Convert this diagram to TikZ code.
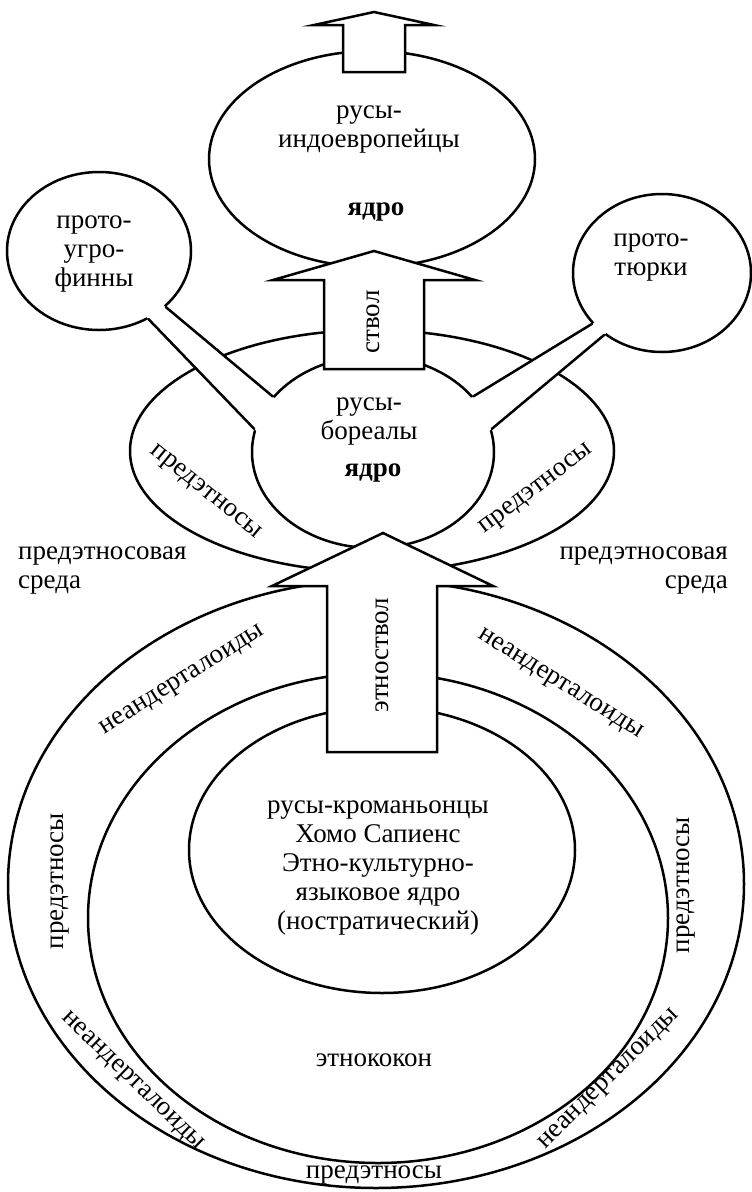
\documentclass[tikz,border=0pt]{standalone}
\usepackage{fontspec}
\setmainfont{Liberation Serif}
\usepackage{tikz}
\usetikzlibrary{shapes.geometric,calc}
\tikzset{
  ring/.style={ellipse, draw=black, line width=2.5pt, fill=white, inner sep=0pt},
  lbl/.style={font=\fontsize{27}{29}\selectfont, inner sep=0pt, align=center},
  core/.style={font=\fontsize{27}{29}\selectfont\bfseries, inner sep=0pt},
  wall/.style={line width=2.5pt, line cap=round},
  barrow/.style={draw=black, fill=white, line width=2.5pt, line join=miter},
}

\begin{document}
\begin{tikzpicture}[x=1pt, y=-1pt]
        \useasboundingbox (0,0) rectangle (752,1192);
        % lower rings
        \node[ring, minimum width=736pt, minimum height=608pt] (cocoon) at (376,884) {};
        \node[ring, minimum width=580pt, minimum height=490pt] (neand) at (378,918) {};
        \node[ring, minimum width=386pt, minimum height=286pt] (cro) at (382,850) {};
        % upper part
        \node[ring, minimum width=484pt, minimum height=242pt] (pre) at (372,451) {};
        \node[ring, minimum width=326pt, minimum height=216pt] (indo) at (372,159) {};
        \node[ring, minimum width=184pt, minimum height=158pt] (ugro) at (99,251) {};
        \node[ring, minimum width=178pt, minimum height=158pt] (turk) at (662,273) {};
        \node[ring, minimum width=242pt, minimum height=192pt] (bor) at (373,452) {};
        % bands to the side cores
        \fill[white] ($(ugro.-40.8)!-10pt!(bor.151.4)$) -- ($(bor.151.4)!-10pt!(ugro.-40.8)$)
          -- ($(bor.169.4)!-10pt!(ugro.-54.6)$) -- ($(ugro.-54.6)!-10pt!(bor.169.4)$) -- cycle;
        \draw[wall] (ugro.-40.8) -- (bor.151.4);
        \draw[wall] (ugro.-54.6) -- (bor.169.4);
        \fill[white] ($(turk.-144.6)!-10pt!(bor.29.2)$) -- ($(bor.29.2)!-10pt!(turk.-144.6)$)
          -- ($(bor.11.9)!-10pt!(turk.-133.5)$) -- ($(turk.-133.5)!-10pt!(bor.11.9)$) -- cycle;
        \draw[wall] (turk.-144.6) -- (bor.29.2);
        \draw[wall] (turk.-133.5) -- (bor.11.9);
        % block arrows
        \draw[barrow] (324,369) -- (324,280) -- (273,280) -- (374,251) -- (475,280) -- (424,280) -- (424,369) -- cycle;
        \draw[barrow] (327,752) -- (327,586) -- (272,586) -- (383,533) -- (493,586) -- (437,586) -- (437,752) -- cycle;
        \draw[barrow] (343,72) -- (343,25) -- (314,25) -- (374,12) -- (434,25) -- (405,25) -- (405,72) -- cycle;
        \node[lbl, rotate=90] (stem) at (373,322) {ствол};
        \node[lbl, rotate=90] (estem) at (382,655) {этноствол};
        % texts
        \node[lbl] (indotxt) at (369,130) {русы-\\индоевропейцы};
        \node[core] (indocore) at (376,212) {ядро};
        \node[lbl] (ugrotxt) at (94,254) {прото-\\угро-\\финны};
        \node[lbl] (turktxt) at (651,258) {прото-\\тюрки};
        \node[lbl] (bortxt) at (369,422) {русы-\\бореалы};
        \node[core] (borcore) at (373,473) {ядро};
        \node[lbl, rotate=-39] (preL) at (205,493) {предэтносы};
        \node[lbl, rotate=37] (preR) at (537,490) {предэтносы};
        \node[lbl, align=left, anchor=west] (envL) at (18,571) {предэтносовая\\среда};
        \node[lbl, align=right, anchor=east] (envR) at (728,571) {предэтносовая\\среда};
        \node[lbl] (crotxt) at (378,868) {русы-кроманьонцы\\Хомо Сапиенс\\Этно-культурно-\\языковое ядро\\(ностратический)};
        \node[lbl, rotate=32] (neUL) at (183,681) {неандерталоиды};
        \node[lbl, rotate=-32] (neUR) at (560,685) {неандерталоиды};
        \node[lbl, rotate=-44] (neLL) at (132,1082) {неандерталоиды};
        \node[lbl, rotate=45] (neLR) at (610,1080) {неандерталоиды};
        \node[lbl, rotate=90] (preVL) at (60,881) {предэтносы};
        \node[lbl, rotate=90] (preVR) at (686,885) {предэтносы};
        \node[lbl] (cocoontxt) at (374,1060) {этнококон};
        \node[lbl] (preB) at (374,1175) {предэтносы};
      \end{tikzpicture}
\end{document}
